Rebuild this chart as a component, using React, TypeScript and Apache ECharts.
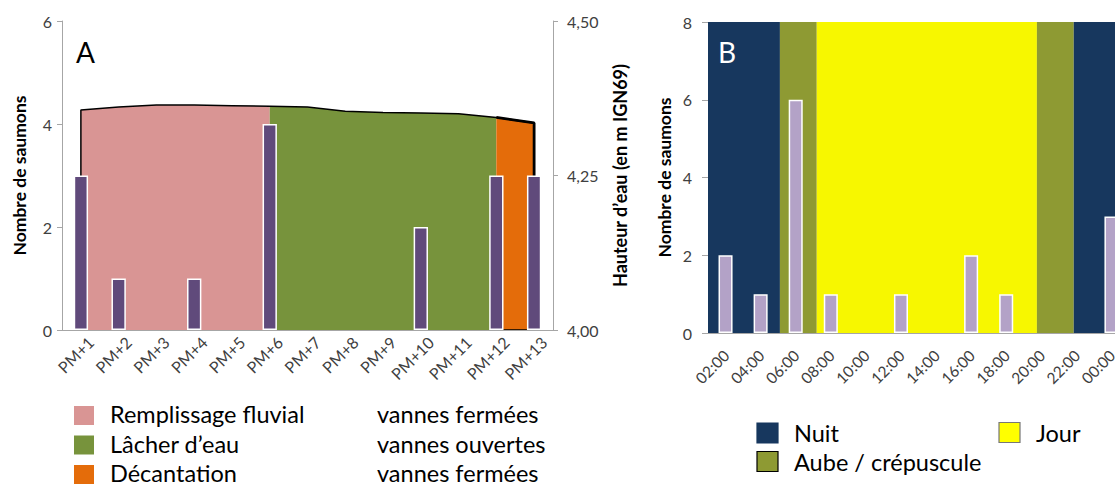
import React, { useEffect, useRef } from "react";
import * as echarts from "echarts";

// ---- Panel A data ----
const pmCategories = ["PM+1", "PM+2", "PM+3", "PM+4", "PM+5", "PM+6", "PM+7", "PM+8", "PM+9", "PM+10", "PM+11", "PM+12", "PM+13"];
const pmSalmonCounts = [3, 1, 0, 1, 0, 4, 0, 0, 0, 2, 0, 3, 3];
const waterLevel = [4.356, 4.361, 4.364, 4.364, 4.363, 4.362, 4.361, 4.354, 4.352, 4.351, 4.35, 4.344, 4.335];
const phaseNames = ["Remplissage fluvial", "Lâcher d’eau", "Décantation"];
const phaseGates = ["vannes fermées", "vannes ouvertes", "vannes fermées"];
const phaseStartIdx = [0, 5, 11];
const phaseEndIdx = [5, 11, 12];
const phaseColors = ["#D99594", "#77933C", "#E46C0A"];
const levelTicks = [4.0, 4.25, 4.5];

// ---- Panel B data ----
const hourCategories = ["02:00", "04:00", "06:00", "08:00", "10:00", "12:00", "14:00", "16:00", "18:00", "20:00", "22:00", "00:00"];
const hourSalmonCounts = [2, 1, 6, 1, 0, 1, 0, 2, 1, 0, 0, 3];
const lightNames = ["Nuit", "Aube / crépuscule", "Jour"];
const lightColors = ["#17375E", "#8E9A33", "#F7F700"];
const bandStartHour = [1, 5.1, 7.2, 19.75, 21.85];
const bandEndHour = [5.1, 7.2, 19.75, 21.85, 25];
const bandKind = [0, 1, 2, 1, 0];

const FONT = "Lato, 'Open Sans', sans-serif";
const AXIS_GRAY = "#A6A6A6";
const LABEL_COLOR = "#404040";

export default function App() {
  const ref = useRef<HTMLDivElement>(null);

  useEffect(() => {
    if (!ref.current) return;
    const chart = echarts.init(ref.current, undefined, { renderer: "svg" });

    const phaseSeries = phaseNames.map((name, p) => ({
      name,
      type: "line",
      xAxisIndex: 0,
      yAxisIndex: 1,
      z: 1,
      silent: true,
      symbol: "none",
      lineStyle: { width: 0 },
      areaStyle: { color: phaseColors[p], opacity: 1, origin: "start" },
      data: waterLevel.map((v, i) => (i >= phaseStartIdx[p] && i <= phaseEndIdx[p] ? v : null)),
    }));

    const last = waterLevel.length - 1;
    const outline = [[0, 4.0], ...waterLevel.map((v, i) => [i, v]), [last, 4.0], [last - 1, 4.0]];
    const orangeEdge = [[last - 1, waterLevel[last - 1]], [last, waterLevel[last]], [last, 4.0]];

    const axisLabelStyle = { color: LABEL_COLOR, fontFamily: FONT };
    const legendGraphics: any[] = [];
    phaseNames.forEach((name, i) => {
      const cy = 416 + i * 29.5;
      legendGraphics.push({ type: "rect", shape: { x: 74, y: cy - 10, width: 20, height: 19 }, style: { fill: phaseColors[i] } });
      legendGraphics.push({ type: "text", x: 110, y: cy - 2, style: { text: name, fill: "#000", fontSize: 23.5, fontFamily: FONT, verticalAlign: "middle" } });
      legendGraphics.push({ type: "text", x: 377, y: cy - 2, style: { text: phaseGates[i], fill: "#000", fontSize: 23.5, fontFamily: FONT, verticalAlign: "middle" } });
    });
    const lightLegendPos = [
      [757, 433],
      [757, 461.5],
      [999, 432.5],
    ];
    const lightBorders = [lightColors[0], "#000", "#777"];
    lightNames.forEach((name, i) => {
      const [lx, ly] = lightLegendPos[i];
      legendGraphics.push({
        type: "rect",
        shape: { x: lx, y: ly - 10, width: 21, height: 20 },
        style: { fill: i === 2 ? "#FFFF00" : lightColors[i], stroke: lightBorders[i], lineWidth: 1.2 },
      });
      legendGraphics.push({ type: "text", x: lx + 37, y: ly, style: { text: name, fill: "#000", fontSize: 23.5, fontFamily: FONT, verticalAlign: "middle" } });
    });

    const titleStyle = { fontFamily: FONT, fontWeight: "bold", fontSize: 17.5, color: "#000" };

    chart.setOption({
      animation: false,
      grid: [
        { left: 62, top: 21, width: 491, height: 309, outerBoundsMode: "none", containLabel: false },
        { left: 708, top: 22, width: 421, height: 311, outerBoundsMode: "none", containLabel: false },
      ],
      xAxis: [
        {
          type: "category",
          gridIndex: 0,
          data: pmCategories,
          z: 10,
          axisLine: { lineStyle: { color: AXIS_GRAY, width: 1 } },
          axisTick: { lineStyle: { color: AXIS_GRAY }, length: 5 },
          axisLabel: { ...axisLabelStyle, rotate: 45, interval: 0, fontSize: 16, margin: 8, verticalAlign: "top", padding: [0, -6, 0, 0] },
        },
        {
          type: "category",
          gridIndex: 1,
          data: hourCategories,
          z: 10,
          axisLine: { lineStyle: { color: AXIS_GRAY, width: 1 } },
          axisTick: { lineStyle: { color: AXIS_GRAY }, length: 6 },
          axisLabel: { ...axisLabelStyle, rotate: 45, interval: 0, fontSize: 15.5, margin: 9, verticalAlign: "top", padding: [0, 7, 0, 0] },
        },
        { type: "value", gridIndex: 1, min: 1, max: 25, show: false },
      ],
      yAxis: [
        {
          type: "value",
          gridIndex: 0,
          min: 0,
          max: 6,
          interval: 2,
          name: "Nombre de saumons",
          nameLocation: "middle",
          nameRotate: 90,
          nameGap: 34,
          nameTextStyle: titleStyle,
          splitLine: { show: false },
          axisLine: { show: true, lineStyle: { color: AXIS_GRAY } },
          axisTick: { show: true, length: 5, lineStyle: { color: AXIS_GRAY } },
          axisLabel: { ...axisLabelStyle, fontSize: 16, margin: 10 },
        },
        {
          type: "value",
          gridIndex: 0,
          position: "right",
          min: levelTicks[0],
          max: levelTicks[levelTicks.length - 1],
          interval: levelTicks[1] - levelTicks[0],
          name: "Hauteur d’eau (en m IGN69)",
          nameLocation: "middle",
          nameRotate: 90,
          nameGap: 58,
          nameTextStyle: { ...titleStyle, fontSize: 18 },
          splitLine: { show: false },
          axisLine: { show: true, lineStyle: { color: AXIS_GRAY } },
          axisTick: { show: true, length: 5, lineStyle: { color: AXIS_GRAY } },
          axisLabel: { ...axisLabelStyle, fontSize: 16, margin: 14, formatter: (v: number) => v.toFixed(2).replace(".", ",") },
        },
        {
          type: "value",
          gridIndex: 1,
          min: 0,
          max: 8,
          interval: 2,
          name: "Nombre de saumons",
          nameLocation: "middle",
          nameRotate: 90,
          nameGap: 35,
          nameTextStyle: titleStyle,
          splitLine: { show: false },
          axisLine: { show: false },
          axisTick: { show: true, length: 6, lineStyle: { color: AXIS_GRAY } },
          axisLabel: { ...axisLabelStyle, fontSize: 16, margin: 16 },
        },
      ],
      series: [
        ...phaseSeries,
        {
          type: "line",
          xAxisIndex: 0,
          yAxisIndex: 1,
          z: 2,
          silent: true,
          symbol: "none",
          lineStyle: { color: "#000", width: 1.5 },
          data: outline,
        },
        {
          type: "line",
          xAxisIndex: 0,
          yAxisIndex: 1,
          z: 2,
          silent: true,
          symbol: "none",
          lineStyle: { color: "#000", width: 2.8 },
          data: orangeEdge,
        },
        {
          type: "bar",
          xAxisIndex: 0,
          yAxisIndex: 0,
          z: 3,
          barWidth: "38%",
          itemStyle: { color: "#604A7B", borderColor: "#FFFFFF", borderWidth: 1.5 },
          data: pmSalmonCounts.map((v) => (v === 0 ? null : v)),
        },
        {
          type: "custom",
          xAxisIndex: 2,
          yAxisIndex: 2,
          z: 1,
          silent: true,
          clip: false,
          encode: { x: [0, 1] },
          data: bandStartHour.map((s, i) => [s, bandEndHour[i], bandKind[i]]),
          renderItem: (_params: any, api: any) => {
            const p0 = api.coord([api.value(0), 8]);
            const p1 = api.coord([api.value(1), 0]);
            return {
              type: "rect",
              shape: { x: p0[0], y: p0[1], width: p1[0] - p0[0], height: p1[1] - p0[1] },
              style: { fill: lightColors[api.value(2)] },
            };
          },
        },
        {
          type: "bar",
          xAxisIndex: 1,
          yAxisIndex: 2,
          z: 3,
          barWidth: "40%",
          itemStyle: { color: "#B3A2C7", borderColor: "#FFFFFF", borderWidth: 1.5 },
          data: hourSalmonCounts.map((v) => (v === 0 ? null : v)),
        },
      ],
      graphic: [
        { type: "text", x: 76, y: 52, z: 10, style: { text: "A", fill: "#000", fontSize: 28, fontFamily: FONT, verticalAlign: "middle" } },
        { type: "text", x: 718, y: 52, z: 10, style: { text: "B", fill: "#FFF", fontSize: 28, fontFamily: FONT, verticalAlign: "middle" } },
        ...legendGraphics,
      ],
    });

    return () => chart.dispose();
  }, []);

  return (
    <div
      ref={ref}
      style={{ position: "fixed", left: 0, top: 0, width: 1115, height: 486, background: "#fff", overflow: "hidden" }}
    />
  );
}
